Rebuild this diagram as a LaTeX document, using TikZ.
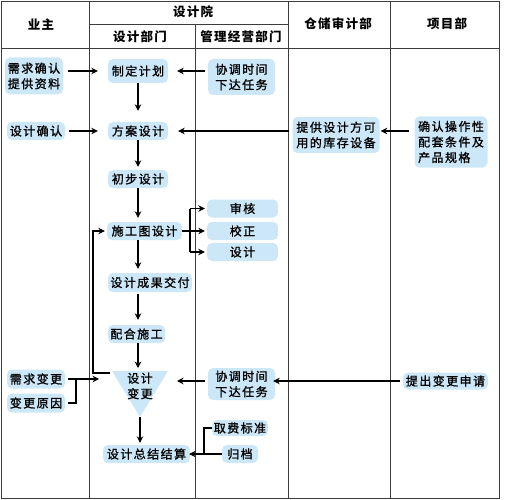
\documentclass[tikz,border=0pt]{standalone}
\usepackage{fontspec}
\newfontfamily\cjk{Noto Sans CJK SC}[LetterSpace=12,FakeBold=1.2]
\newfontfamily\cjkh{Noto Sans CJK SC}[LetterSpace=10]
\usetikzlibrary{arrows.meta,calc}
\definecolor{boxblue}{RGB}{204,232,248}
\definecolor{tblline}{RGB}{60,60,60}
\begin{document}
\begin{tikzpicture}[x=1pt,y=-1pt,
  font=\cjk\fontsize{12}{15.5}\selectfont,
  box/.style={fill=boxblue, rounded corners=5pt, inner sep=0pt, align=left},
  hdr/.style={font=\cjkh\bfseries\fontsize{12.5}{15}\selectfont},
  tbl/.style={draw=tblline, line width=0.8pt},
  ln/.style={line width=1.3pt},
  arr/.style={line width=1.3pt, -{Stealth[length=6.5pt,width=6.5pt]}}]
\useasboundingbox (0,0) rectangle (506,500);
% table
\draw[tbl] (1,1) rectangle (499,498);
\draw[tbl] (89,1) -- (89,498);
\draw[tbl] (288,1) -- (288,498);
\draw[tbl] (390,1) -- (390,498);
\draw[tbl] (195,24) -- (195,498);
\draw[tbl] (89,24) -- (288,24);
\draw[tbl] (1,48) -- (499,48);
% headers
\node[hdr] (h1) at (41,25) {业主};
\node[hdr] (h2) at (193,12) {设计院};
\node[hdr] (h3) at (140,37) {设计部门};
\node[hdr] (h4) at (241,37) {管理经营部门};
\node[hdr] (h5) at (338,24) {仓储审计部};
\node[hdr] (h6) at (447,24) {项目部};
% boxes
\node[box, minimum width=58pt, minimum height=37pt] (req1) at (34,76) {需求确认\\提供资料};
\node[box, minimum width=60pt, minimum height=24pt] (plan) at (138,71) {制定计划};
\node[box, minimum width=67pt, minimum height=36pt] (coord1) at (241.5,77) {协调时间\\下达任务};
\node[box, minimum width=58pt, minimum height=18pt] (confirm) at (36,131) {设计确认};
\node[box, minimum width=60pt, minimum height=18pt] (scheme) at (138,131) {方案设计};
\node[box, minimum width=87pt, minimum height=36pt] (stock) at (336,135) {提供设计方可\\用的库存设备};
\node[box, minimum width=73pt, minimum height=51pt] (proj) at (451,142) {确认操作性\\配套条件及\\产品规格};
\node[box, minimum width=60pt, minimum height=18pt] (prelim) at (138,179) {初步设计};
\node[box, minimum width=75pt, minimum height=18pt] (construct) at (144.5,231) {施工图设计};
\node[box, minimum width=71pt, minimum height=18pt, align=center] (audit) at (242.5,208.5) {审核};
\node[box, minimum width=71pt, minimum height=18pt, align=center] (correct) at (242.5,231) {校正};
\node[box, minimum width=71pt, minimum height=18pt, align=center] (design3) at (242.5,252) {设计};
\node[box, minimum width=84pt, minimum height=19pt] (deliver) at (150,282.5) {设计成果交付};
\node[box, minimum width=57pt, minimum height=18pt] (cooperate) at (136.5,334) {配合施工};
% triangle
\fill[boxblue] (112,371) -- (168,371) -- (140,417) -- cycle;
\node[inner sep=0pt, align=center] (tri) at (140,386) {设计\\变更};
\coordinate (triTop) at (140,371);
\coordinate (triBot) at (140,417);
\coordinate (triFb) at (110,373);
\coordinate (triL) at (99,379);
\coordinate (triR) at (177,381);
\node[box, minimum width=58pt, minimum height=19pt] (req2) at (36,379) {需求变更};
\node[box, minimum width=58pt, minimum height=19pt] (reason) at (36,403) {变更原因};
\node[box, minimum width=67pt, minimum height=32pt] (coord2) at (241.5,384) {协调时间\\下达任务};
\node[box, minimum width=85pt, minimum height=17pt] (change) at (445.5,381) {提出变更申请};
\node[box, minimum width=87pt, minimum height=18pt] (summary) at (146.5,454) {设计总结结算};
\node[box, minimum width=56pt, minimum height=16pt] (fee) at (240,428) {取费标准};
\node[box, minimum width=36pt, minimum height=18pt, align=center] (archive) at (240,454) {归档};
% connectors
\draw[arr, shorten <=5pt, shorten >=10pt] (req1.east |- plan.west) -- (plan.west);
\draw[arr, shorten <=3pt, shorten >=9pt] (coord1.west |- plan.east) -- (plan.east);
\draw[arr, shorten >=11pt] (plan.south) -- (scheme.north);
\draw[arr, shorten <=4pt, shorten >=10pt] (confirm.east) -- (scheme.west);
\draw[arr, shorten <=3pt, shorten >=10pt] (stock.west |- scheme.east) -- (scheme.east);
\draw[arr, shorten <=5pt, shorten >=1pt] (proj.west |- scheme.east) -- (stock.east |- scheme.east);
\draw[arr, shorten >=3pt] (scheme.south) -- (prelim.north);
\draw[arr, shorten >=4pt] (prelim.south) -- (prelim.south |- construct.north);
% fork
\coordinate (fork) at (190,231);
\draw[ln] (fork |- audit.west) -- (fork |- design3.west);
\draw[arr, shorten >=2pt] (construct.east) -- (correct.west);
\draw[arr, shorten >=2pt] (fork |- audit.west) -- (audit.west);
\draw[arr, shorten >=2pt] (fork |- design3.west) -- (design3.west);
\draw[arr, shorten >=4pt] (prelim.south |- construct.south) -- (prelim.south |- deliver.north);
\draw[arr, shorten <=2pt, shorten >=5pt] (prelim.south |- deliver.south) -- (prelim.south |- cooperate.north);
\draw[arr, shorten >=3pt] (prelim.south |- cooperate.south) -- (prelim.south |- triTop);
% feedback loop
\coordinate (loop) at (93,373);
\draw[arr, shorten >=2pt] (triFb) -- (loop) |- (construct.west);
% change inputs
\coordinate (brk) at (76,379);
\draw[ln, shorten <=3pt] (reason.east) -| (brk);
\draw[arr, shorten <=3pt] (req2.east) -- (triL);
\draw[arr, shorten <=3pt] (coord2.west |- change.west) -- (triR);
\draw[arr, shorten <=3pt, shorten >=-2pt] (change.west) -- (coord2.east |- change.west);
\draw[arr, shorten >=2pt] (triBot) -- (triBot |- summary.north);
% fee / archive
\coordinate (brk2) at (204,454);
\draw[ln] (fee.west) -| (brk2);
\draw[arr, shorten >=-1pt] (archive.west) -- (summary.east);
\end{tikzpicture}
\end{document}
